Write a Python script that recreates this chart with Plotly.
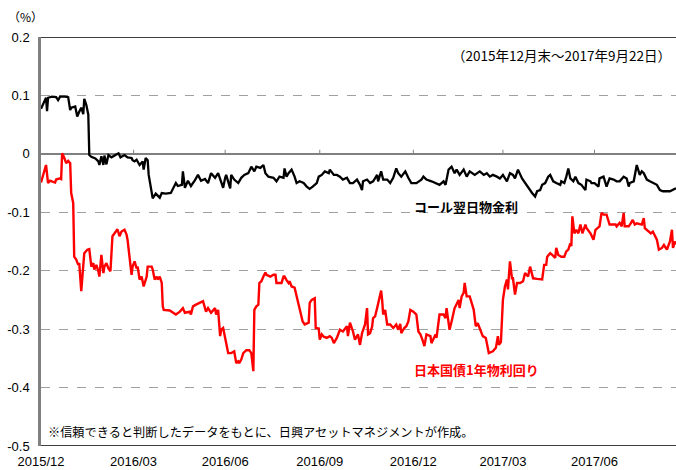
import pandas as pd
import plotly.graph_objects as go

start_date = "2015-12-31"
end_date = "2017-09-22"

# コール翌日物金利 (days since 2015-12-31, %)
call_days = [0,4,5,6,7,11,15,17,19,24,27,29,30,34,36,38,40,42,43,45,47,48,50,54,57,58,60,62,63,65,67,70,73,77,79,83,86,90,91,93,95,98,101,102,104,106,107,110,111,114,118,120,124,129,133,134,136,140,141,143,146,149,153,156,159,163,166,169,173,176,179,181,183,184,188,189,192,196,199,202,206,209,212,214,218,221,223,226,231,234,237,241,242,244,246,249,252,254,257,261,264,267,270,274,276,279,282,286,287,291,294,297,300,304,307,310,314,317,319,320,324,327,330,334,335,338,340,344,347,350,353,355,358,362,365,368,373,378,380,383,388,393,396,400,402,405,408,411,413,416,420,423,426,431,436,440,443,446,449,453,456,459,463,466,469,471,474,478,481,484,488,491,493,496,498,501,504,506,509,512,516,517,520,522,524,526,529,531,534,537,541,542,546,547,550,554,555,559,562,565,569,572,575,579,582,584,585,589,592,595,597,599,602,605,608,612,615,618,625,628,631]
call_rate = [0.077,0.092,0.096,0.073,0.096,0.098,0.097,0.092,0.098,0.098,0.097,0.075,0.079,0.081,0.064,0.072,0.079,0.068,0.094,0.084,0.067,-0.002,-0.005,-0.008,-0.013,-0.019,-0.004,-0.019,-0.003,-0.018,-0.002,-0.006,-0.003,0.001,-0.006,-0.002,-0.006,-0.007,-0.011,-0.013,-0.010,-0.019,-0.013,-0.027,-0.007,-0.011,-0.036,-0.070,-0.076,-0.068,-0.075,-0.067,-0.068,-0.067,-0.053,-0.050,-0.055,-0.053,-0.030,-0.058,-0.046,-0.055,-0.045,-0.036,-0.046,-0.043,-0.050,-0.033,-0.041,-0.033,-0.048,-0.058,-0.041,-0.036,-0.059,-0.036,-0.044,-0.050,-0.041,-0.036,-0.033,-0.022,-0.030,-0.022,-0.024,-0.019,-0.033,-0.039,-0.041,-0.047,-0.039,-0.041,-0.025,-0.039,-0.033,-0.027,-0.039,-0.050,-0.047,-0.050,-0.056,-0.060,-0.056,-0.050,-0.039,-0.036,-0.030,-0.033,-0.027,-0.036,-0.036,-0.039,-0.044,-0.041,-0.050,-0.050,-0.044,-0.053,-0.062,-0.047,-0.044,-0.050,-0.047,-0.036,-0.047,-0.030,-0.044,-0.044,-0.050,-0.041,-0.025,-0.033,-0.039,-0.030,-0.041,-0.050,-0.050,-0.044,-0.039,-0.044,-0.047,-0.050,-0.053,-0.047,-0.053,-0.027,-0.022,-0.033,-0.027,-0.036,-0.027,-0.039,-0.030,-0.036,-0.030,-0.036,-0.033,-0.039,-0.036,-0.039,-0.042,-0.036,-0.047,-0.033,-0.036,-0.042,-0.027,-0.042,-0.050,-0.056,-0.067,-0.073,-0.064,-0.062,-0.053,-0.050,-0.039,-0.036,-0.047,-0.050,-0.053,-0.047,-0.050,-0.039,-0.025,-0.042,-0.047,-0.039,-0.050,-0.053,-0.062,-0.044,-0.047,-0.050,-0.050,-0.056,-0.042,-0.039,-0.056,-0.042,-0.044,-0.047,-0.047,-0.039,-0.042,-0.056,-0.050,-0.047,-0.019,-0.036,-0.030,-0.033,-0.044,-0.047,-0.050,-0.053,-0.062,-0.064,-0.064,-0.062,-0.059]

# 日本国債1年物利回り (days since 2015-12-31, %)
jgb_days = [0,4,5,7,9,12,14,15,19,20,21,23,25,27,29,30,32,33,35,37,38,40,42,43,46,48,50,52,53,55,57,58,60,62,63,65,67,69,71,73,76,78,80,83,85,86,88,90,91,93,95,96,98,100,102,105,106,110,111,113,115,116,118,120,121,122,128,131,134,138,141,143,148,149,151,154,158,161,164,166,169,173,174,176,178,179,181,183,184,186,189,192,194,196,197,199,201,204,207,209,211,212,214,216,217,219,221,223,224,228,231,233,234,239,241,242,244,246,247,249,252,254,257,260,262,266,267,269,272,273,276,277,279,281,284,287,289,291,294,297,300,304,305,307,310,312,315,317,319,322,324,325,327,329,330,332,334,335,338,339,340,342,344,347,350,353,355,357,358,361,363,365,367,370,373,375,377,379,381,383,387,388,392,393,395,396,400,402,403,405,406,408,410,411,415,416,418,420,421,423,425,426,430,432,434,439,442,445,449,452,454,455,457,459,461,463,464,466,468,469,471,473,476,479,481,484,486,488,489,493,496,498,500,502,503,506,508,511,512,514,517,520,522,524,526,527,528,530,532,534,536,538,541,542,546,549,551,553,555,557,559,562,565,569,571,572,575,577,579,580,584,586,588,590,592,597,599,600,604,606,608,612,614,617,619,622,623,625,627,628,630,631]
jgb_yield = [-0.049,-0.025,-0.019,-0.050,-0.046,-0.048,-0.049,-0.044,-0.042,-0.043,0.001,-0.006,-0.016,-0.012,-0.016,-0.067,-0.084,-0.176,-0.181,-0.190,-0.187,-0.235,-0.181,-0.170,-0.164,-0.163,-0.193,-0.187,-0.198,-0.190,-0.201,-0.210,-0.173,-0.204,-0.193,-0.187,-0.196,-0.201,-0.141,-0.136,-0.129,-0.141,-0.133,-0.130,-0.138,-0.147,-0.181,-0.207,-0.193,-0.184,-0.196,-0.193,-0.215,-0.210,-0.227,-0.210,-0.193,-0.193,-0.198,-0.215,-0.210,-0.215,-0.210,-0.221,-0.261,-0.267,-0.268,-0.272,-0.275,-0.270,-0.264,-0.272,-0.270,-0.275,-0.261,-0.258,-0.255,-0.252,-0.270,-0.264,-0.272,-0.264,-0.275,-0.267,-0.312,-0.301,-0.298,-0.318,-0.324,-0.341,-0.341,-0.338,-0.358,-0.355,-0.358,-0.352,-0.341,-0.336,-0.336,-0.341,-0.372,-0.267,-0.261,-0.258,-0.221,-0.218,-0.210,-0.203,-0.207,-0.210,-0.207,-0.207,-0.221,-0.221,-0.210,-0.210,-0.216,-0.221,-0.218,-0.227,-0.229,-0.244,-0.264,-0.287,-0.292,-0.289,-0.255,-0.250,-0.247,-0.298,-0.299,-0.318,-0.309,-0.313,-0.315,-0.312,-0.315,-0.324,-0.315,-0.301,-0.304,-0.295,-0.312,-0.289,-0.304,-0.318,-0.309,-0.327,-0.307,-0.292,-0.264,-0.309,-0.307,-0.296,-0.281,-0.278,-0.264,-0.255,-0.234,-0.250,-0.275,-0.267,-0.292,-0.292,-0.298,-0.292,-0.301,-0.291,-0.307,-0.298,-0.295,-0.287,-0.267,-0.270,-0.275,-0.304,-0.309,-0.318,-0.329,-0.309,-0.312,-0.324,-0.309,-0.315,-0.289,-0.275,-0.275,-0.281,-0.264,-0.284,-0.301,-0.287,-0.270,-0.264,-0.250,-0.264,-0.244,-0.238,-0.221,-0.244,-0.244,-0.244,-0.267,-0.295,-0.290,-0.312,-0.315,-0.341,-0.338,-0.332,-0.312,-0.327,-0.322,-0.250,-0.227,-0.215,-0.232,-0.184,-0.213,-0.213,-0.241,-0.221,-0.221,-0.218,-0.204,-0.210,-0.193,-0.204,-0.213,-0.214,-0.215,-0.215,-0.190,-0.190,-0.176,-0.170,-0.173,-0.178,-0.161,-0.173,-0.176,-0.176,-0.167,-0.164,-0.153,-0.158,-0.107,-0.136,-0.130,-0.136,-0.121,-0.136,-0.121,-0.127,-0.136,-0.147,-0.130,-0.127,-0.124,-0.101,-0.104,-0.104,-0.121,-0.121,-0.121,-0.124,-0.118,-0.124,-0.101,-0.124,-0.124,-0.119,-0.113,-0.121,-0.119,-0.121,-0.110,-0.127,-0.133,-0.136,-0.133,-0.147,-0.164,-0.161,-0.156,-0.164,-0.159,-0.150,-0.130,-0.161,-0.150,-0.155]

tick_dates = ["2015-12-31", "2016-04-01", "2016-07-01", "2016-10-03", "2017-01-04", "2017-04-03", "2017-07-03"]
tick_labels = ["2015/12", "2016/03", "2016/06", "2016/09", "2016/12", "2017/03", "2017/06"]
y_ticks = [0.2, 0.1, 0, -0.1, -0.2, -0.3, -0.4, -0.5]
y_labels = ["0.2", "0.1", "0", "-0.1", "-0.2", "-0.3", "-0.4", "-0.5"]

t0 = pd.Timestamp(start_date)
call_x = [t0 + pd.Timedelta(days=d) for d in call_days]
jgb_x = [t0 + pd.Timedelta(days=d) for d in jgb_days]

JP = "Noto Sans CJK JP"
NUM = "Liberation Sans, Arial, sans-serif"

fig = go.Figure()
fig.add_trace(go.Scatter(x=call_x, y=call_rate, mode="lines", name="コール翌日物金利",
                         line=dict(color="#000000", width=2.3)))
fig.add_trace(go.Scatter(x=jgb_x, y=jgb_yield, mode="lines", name="日本国債1年物利回り",
                         line=dict(color="#ff0000", width=2.4)))

shapes = []
shapes.append(dict(type="line", xref="paper", yref="y", x0=0, x1=1, y0=y_ticks[0], y1=y_ticks[0],
                   line=dict(color="#000000", width=1.5), layer="above"))
shapes.append(dict(type="line", xref="paper", yref="y", x0=0, x1=1, y0=y_ticks[-1], y1=y_ticks[-1],
                   line=dict(color="#000000", width=1.5), layer="above"))
for d in tick_dates[1:]:
    shapes.append(dict(type="line", xref="x", yref="y", x0=d, x1=d, y0=0, y1=0.007,
                       line=dict(color="#808080", width=1)))

fig.update_layout(
    width=676, height=470,
    margin=dict(l=41, r=0, t=37, b=24, autoexpand=False),
    paper_bgcolor="white", plot_bgcolor="white",
    showlegend=False,
    shapes=shapes,
    xaxis=dict(range=[start_date, end_date], tickvals=tick_dates, ticktext=tick_labels,
               ticks="", showgrid=False, zeroline=False, showline=False, automargin=False,
               ticklabelstandoff=6,
               tickfont=dict(family=NUM, size=13, color="#000")),
    yaxis=dict(range=[-0.5, 0.2], tickvals=y_ticks, ticktext=y_labels, automargin=False,
               ticklabelstandoff=6,
               showgrid=True, gridcolor="#a0a0a0", griddash="dash", gridwidth=1,
               zeroline=True, zerolinecolor="#808080", zerolinewidth=1.5,
               showline=True, linecolor="#808080", linewidth=2.5,
               ticks="", tickfont=dict(family=NUM, size=13, color="#000")),
    annotations=[
        dict(text="（%）", xref="paper", yref="paper", x=-0.055, y=1.05, xanchor="left", yanchor="middle",
             showarrow=False, font=dict(family=JP, size=12, color="#000")),
        dict(text="（2015年12月末～2017年9月22日）", xref="paper", yref="paper", x=0.996, y=0.955,
             xanchor="right", yanchor="middle", showarrow=False, font=dict(family=JP, size=13.5, color="#000")),
        dict(text="<b>コール翌日物金利</b>", xref="paper", yref="paper", x=0.585, y=0.585,
             xanchor="left", yanchor="middle", showarrow=False, font=dict(family=JP, size=13, color="#000")),
        dict(text="<b>日本国債1年物利回り</b>", xref="paper", yref="paper", x=0.585, y=0.187,
             xanchor="left", yanchor="middle", showarrow=False, font=dict(family=JP, size=13, color="#ff0000")),
        dict(text="※信頼できると判断したデータをもとに、日興アセットマネジメントが作成。", xref="paper", yref="paper",
             x=0.008, y=0.034, xanchor="left", yanchor="middle", showarrow=False,
             font=dict(family=JP, size=12.2, color="#000")),
    ],
)

fig.write_html("out.html", config={"displayModeBar": False},
               post_script="document.body.style.margin='0';document.body.style.overflow='hidden';")
